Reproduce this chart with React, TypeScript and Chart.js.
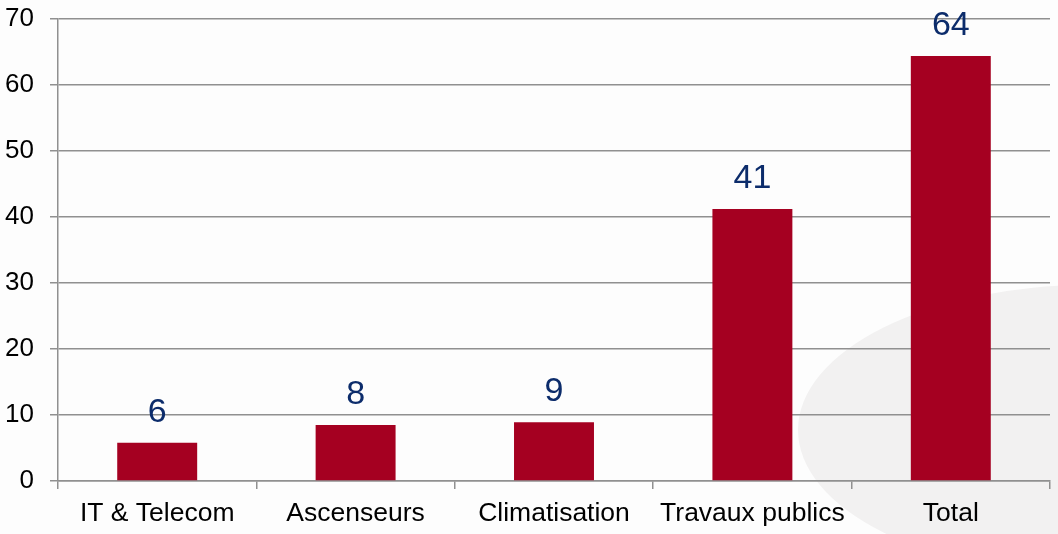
import React, { useEffect, useRef } from "react";
import { Chart, registerables } from "chart.js";

Chart.register(...registerables);

const categories = ["IT & Telecom", "Ascenseurs", "Climatisation", "Travaux publics", "Total"];
const values = [5.8, 8.5, 8.9, 41.2, 64.4];
const valueLabels = ["6", "8", "9", "41", "64"];
const yTicks = [0, 10, 20, 30, 40, 50, 60, 70];

const FONT = "'Liberation Sans', Arial, sans-serif";

const backgroundPlugin = {
  id: "bgDecor",
  beforeDraw(chart: any) {
    const ctx = chart.ctx;
    ctx.save();
    ctx.fillStyle = "#fdfdfd";
    ctx.fillRect(0, 0, chart.width, chart.height);
    ctx.fillStyle = "#f2f1f1";
    ctx.beginPath();
    ctx.ellipse(1090, 430, 292, 145, 0, 0, Math.PI * 2);
    ctx.fill();
    ctx.restore();
  },
};

const labelPlugin = {
  id: "valueLabels",
  afterDatasetsDraw(chart: any) {
    const ctx = chart.ctx;
    const meta = chart.getDatasetMeta(0);
    ctx.save();
    ctx.font = `34px ${FONT}`;
    ctx.fillStyle = "#0c2c6b";
    ctx.textAlign = "center";
    ctx.textBaseline = "alphabetic";
    meta.data.forEach((el: any, i: number) => {
      ctx.fillText(valueLabels[i], el.x, el.y - 21);
    });
    ctx.restore();
  },
};

export default function App() {
  const ref = useRef<HTMLCanvasElement | null>(null);
  useEffect(() => {
    if (!ref.current) return;
    const chart = new Chart(ref.current, {
      type: "bar",
      data: {
        labels: categories,
        datasets: [
          {
            data: values,
            backgroundColor: "#a50021",
            borderWidth: 0,
            categoryPercentage: 1,
            barPercentage: 0.403,
          },
        ],
      },
      options: {
        responsive: false,
        animation: false,
        layout: { padding: { top: 19, right: 8, left: 0, bottom: 0 } },
        plugins: { legend: { display: false }, tooltip: { enabled: false } },
        scales: {
          x: {
            grid: {
              offset: true,
              drawOnChartArea: false,
              drawTicks: true,
              tickLength: 8,
              color: "#909090",
              lineWidth: 1.5,
            },
            border: { color: "#909090", width: 1.5 },
            ticks: {
              color: "#000000",
              font: { family: FONT, size: 26.5 },
              padding: 9,
              maxRotation: 0,
              autoSkip: false,
            },
            afterFit(scale: any) {
              scale.height = 53;
              scale.paddingLeft = 0;
              scale.paddingRight = 0;
            },
          },
          y: {
            min: 0,
            max: 70,
            afterBuildTicks(scale: any) {
              scale.ticks = yTicks.map((v) => ({ value: v }));
            },
            grid: {
              color: "#909090",
              lineWidth: 1.5,
              drawTicks: true,
              tickLength: 8,
            },
            border: { color: "#909090", width: 1.5 },
            ticks: {
              color: "#000000",
              font: { family: FONT, size: 26 },
              padding: 16,
            },
            afterFit(scale: any) {
              scale.width = 58;
              scale.paddingTop = 0;
              scale.paddingBottom = 0;
            },
          },
        },
      },
      plugins: [backgroundPlugin, labelPlugin],
    });
    return () => chart.destroy();
  }, []);
  return (
    <div style={{ position: "fixed", left: 0, top: 0, width: 1058, height: 534 }}>
      <canvas ref={ref} width={1058} height={534} style={{ width: 1058, height: 534, display: "block" }} />
    </div>
  );
}
